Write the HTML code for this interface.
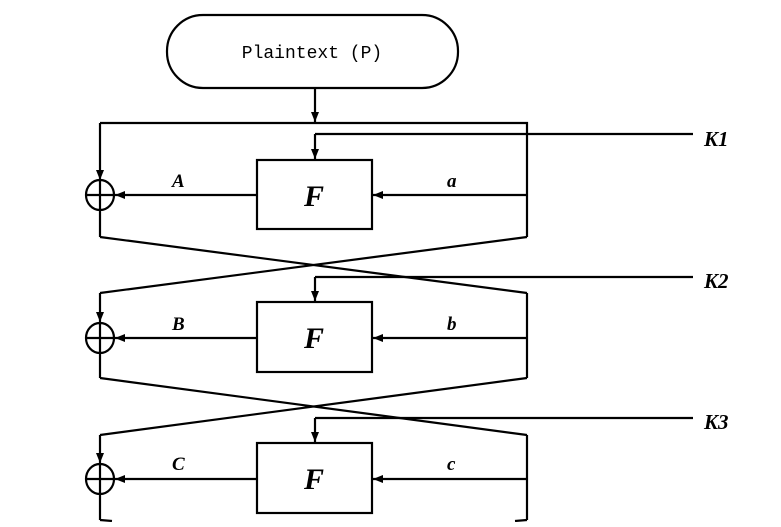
<!DOCTYPE html>
<html><head><meta charset="utf-8"><style>html,body{margin:0;padding:0;background:#fff}</style></head>
<body>
<svg width="781" height="522" viewBox="0 0 781 522" xmlns="http://www.w3.org/2000/svg">
<defs>
<marker id="ar" markerWidth="10" markerHeight="8" refX="10" refY="4" orient="auto" markerUnits="userSpaceOnUse">
<path d="M0,0 L10,4 L0,8 Z" fill="#000"/></marker>
</defs>
<g fill="none" stroke="#000" stroke-width="2.2">
<rect x="167" y="15" width="291" height="73" rx="36" ry="36"/>
<line x1="315" y1="88" x2="315" y2="122" marker-end="url(#ar)"/>

<!-- round 1 -->
<polyline points="527,237 527,123 100,123"/>
<line x1="100" y1="123" x2="100" y2="180" marker-end="url(#ar)"/>
<line x1="100" y1="180" x2="100" y2="237"/>
<line x1="693" y1="134" x2="315" y2="134"/>
<line x1="315" y1="134" x2="315" y2="159" marker-end="url(#ar)"/>
<rect x="257" y="160" width="115" height="69"/>
<line x1="527" y1="195" x2="373" y2="195" marker-end="url(#ar)"/>
<line x1="257" y1="195" x2="115" y2="195" marker-end="url(#ar)"/>
<ellipse cx="100" cy="195" rx="14" ry="15"/>
<line x1="86" y1="195" x2="114" y2="195"/>

<line x1="100" y1="237" x2="527" y2="293"/>
<line x1="527" y1="237" x2="100" y2="293"/>

<!-- round 2 -->
<line x1="100" y1="293" x2="100" y2="322" marker-end="url(#ar)"/>
<line x1="100" y1="322" x2="100" y2="378"/>
<line x1="527" y1="293" x2="527" y2="378"/>
<line x1="693" y1="277" x2="315" y2="277"/>
<line x1="315" y1="277" x2="315" y2="301" marker-end="url(#ar)"/>
<rect x="257" y="302" width="115" height="70"/>
<line x1="527" y1="338" x2="373" y2="338" marker-end="url(#ar)"/>
<line x1="257" y1="338" x2="115" y2="338" marker-end="url(#ar)"/>
<ellipse cx="100" cy="338" rx="14" ry="15"/>
<line x1="86" y1="338" x2="114" y2="338"/>

<line x1="100" y1="378" x2="527" y2="435"/>
<line x1="527" y1="378" x2="100" y2="435"/>

<!-- round 3 -->
<line x1="100" y1="435" x2="100" y2="463" marker-end="url(#ar)"/>
<line x1="100" y1="463" x2="100" y2="520"/>
<line x1="527" y1="435" x2="527" y2="520"/>
<line x1="100" y1="520" x2="112" y2="521"/>
<line x1="527" y1="520" x2="515" y2="521"/>
<line x1="693" y1="418" x2="315" y2="418"/>
<line x1="315" y1="418" x2="315" y2="442" marker-end="url(#ar)"/>
<rect x="257" y="443" width="115" height="70"/>
<line x1="527" y1="479" x2="373" y2="479" marker-end="url(#ar)"/>
<line x1="257" y1="479" x2="115" y2="479" marker-end="url(#ar)"/>
<ellipse cx="100" cy="479" rx="14" ry="15"/>
<line x1="86" y1="479" x2="114" y2="479"/>
</g>
<g font-family="Liberation Serif, serif" font-style="italic" font-weight="bold" fill="#000">
<text x="312" y="58" font-family="Liberation Mono, monospace" font-style="normal" font-weight="normal" font-size="18" text-anchor="middle">Plaintext (P)</text>
<g font-size="30" text-anchor="middle">
<text x="314" y="206">F</text><text x="314" y="348">F</text><text x="314" y="489">F</text>
</g>
<g font-size="19">
<text x="172" y="187">A</text><text x="172" y="330">B</text><text x="172" y="470">C</text>
<text x="447" y="187">a</text><text x="447" y="330">b</text><text x="447" y="470">c</text>
<text x="704" y="146" font-size="21">K1</text><text x="704" y="288" font-size="21">K2</text><text x="704" y="429" font-size="21">K3</text>
</g>
</g>
</svg>
</body></html>
